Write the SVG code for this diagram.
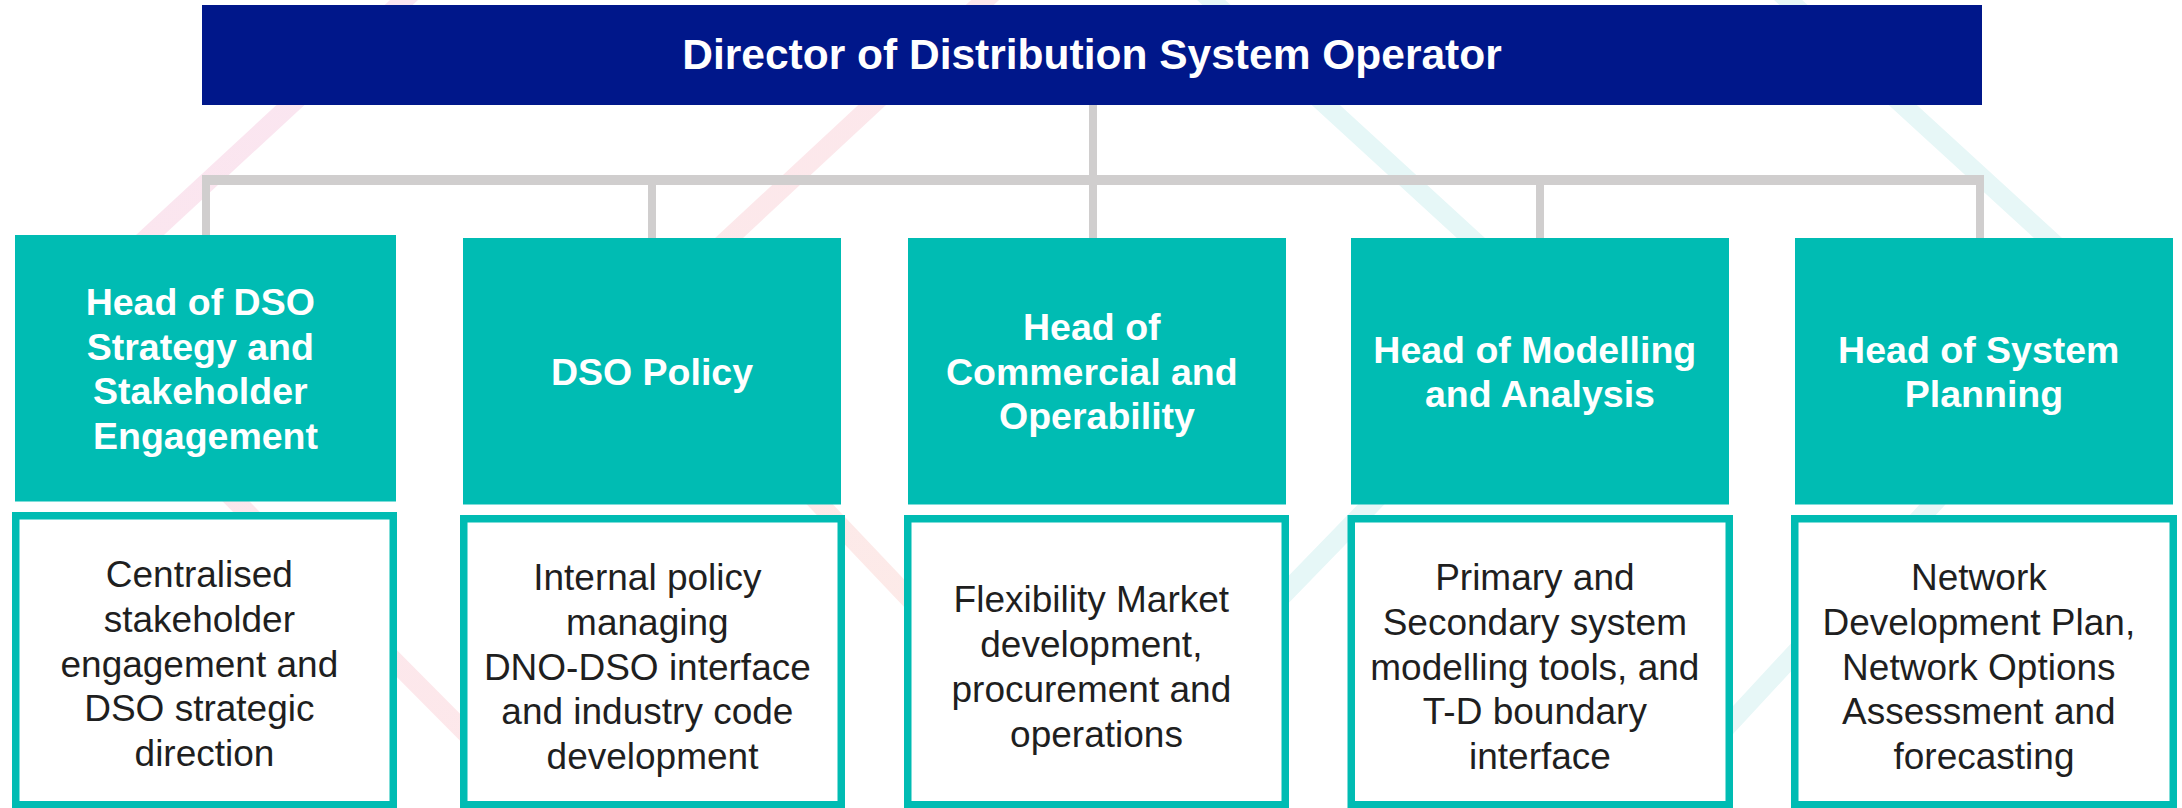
<svg xmlns="http://www.w3.org/2000/svg" width="2182" height="808" viewBox="0 0 2182 808">
  <defs>
    <linearGradient id="pinkA" gradientUnits="userSpaceOnUse" x1="0" y1="0" x2="0" y2="808">
      <stop offset="0" stop-color="#fae5f1"/>
      <stop offset="1" stop-color="#fde8ea"/>
    </linearGradient>
    <linearGradient id="pinkB" gradientUnits="userSpaceOnUse" x1="0" y1="0" x2="0" y2="808">
      <stop offset="0" stop-color="#fce7ec"/>
      <stop offset="1" stop-color="#fdebe7"/>
    </linearGradient>
    <style>
      .band { fill: none; stroke-width: 19; stroke-linejoin: miter; }
      .conn { fill: none; stroke: #d0cece; stroke-linecap: butt; }
      .top { fill: #00178a; }
      .head { fill: #00bcb3; }
      .desc { fill: #ffffff; stroke: #00bcb3; stroke-width: 7.5; }
      .ttl { font-family: "Liberation Sans", Arial, sans-serif; font-weight: bold; font-size: 42.5px; fill: #ffffff; text-anchor: middle; }
      .ht { font-family: "Liberation Sans", Arial, sans-serif; font-weight: bold; font-size: 37.5px; fill: #ffffff; text-anchor: middle; }
      .dt { font-family: "Liberation Sans", Arial, sans-serif; font-size: 37px; fill: #1f1f1f; text-anchor: middle; }
    </style>
  </defs>

  <rect x="0" y="0" width="2182" height="808" fill="#ffffff"/>

  <g id="background">
    <polyline class="band" stroke="url(#pinkA)" points="417,-12 57,321 558,826"/>
    <polyline class="band" stroke="url(#pinkB)" points="998,-12 643,318 1125,826"/>
    <polyline class="band" stroke="#e6f7f7" points="1198,-12 1555,315 1059,826"/>
    <polyline class="band" stroke="#e7f7f7" points="1775,-12 2119,303 1635,826"/>
  </g>

  <g id="connectors">
    <line class="conn" stroke-width="8" x1="1093" y1="104" x2="1093" y2="180"/>
    <line class="conn" stroke-width="10" x1="202" y1="180" x2="1984" y2="180"/>
    <line class="conn" stroke-width="8" x1="206" y1="180" x2="206" y2="236"/>
    <line class="conn" stroke-width="8" x1="652" y1="180" x2="652" y2="239"/>
    <line class="conn" stroke-width="8" x1="1093" y1="180" x2="1093" y2="239"/>
    <line class="conn" stroke-width="8" x1="1540" y1="180" x2="1540" y2="239"/>
    <line class="conn" stroke-width="8" x1="1980" y1="180" x2="1980" y2="239"/>
  </g>

  <g id="director">
    <rect class="top" x="202" y="5" width="1780" height="100"/>
    <text class="ttl" x="1092" y="69">Director of Distribution System Operator</text>
  </g>

  <g id="head-strategy">
    <rect class="head" x="15" y="235" width="381" height="266.5"/>
    <text class="ht">
      <tspan x="205.5" y="315">Head of DSO</tspan>
      <tspan x="205.5" y="359.5">Strategy and</tspan>
      <tspan x="205.5" y="404">Stakeholder</tspan>
      <tspan x="205.5" y="448.5">Engagement</tspan>
    </text>
  </g>
  <g id="desc-strategy">
    <rect class="desc" x="15.75" y="515.75" width="377.5" height="289"/>
    <text class="dt">
      <tspan x="204.5" y="587">Centralised</tspan>
      <tspan x="204.5" y="631.75">stakeholder</tspan>
      <tspan x="204.5" y="676.5">engagement and</tspan>
      <tspan x="204.5" y="721.25">DSO strategic</tspan>
      <tspan x="204.5" y="766">direction</tspan>
    </text>
  </g>

  <g id="head-policy">
    <rect class="head" x="463" y="238" width="378" height="266.5"/>
    <text class="ht" x="652" y="384.5">DSO Policy</text>
  </g>
  <g id="desc-policy">
    <rect class="desc" x="463.75" y="518.75" width="377.5" height="286"/>
    <text class="dt">
      <tspan x="652.5" y="590">Internal policy</tspan>
      <tspan x="652.5" y="634.75">managing</tspan>
      <tspan x="652.5" y="679.5">DNO-DSO interface</tspan>
      <tspan x="652.5" y="724.25">and industry code</tspan>
      <tspan x="652.5" y="769">development</tspan>
    </text>
  </g>

  <g id="head-commercial">
    <rect class="head" x="908" y="238" width="378" height="266.5"/>
    <text class="ht">
      <tspan x="1097" y="340">Head of</tspan>
      <tspan x="1097" y="384.5">Commercial and</tspan>
      <tspan x="1097" y="429">Operability</tspan>
    </text>
  </g>
  <g id="desc-commercial">
    <rect class="desc" x="907.75" y="518.75" width="377.5" height="286"/>
    <text class="dt">
      <tspan x="1096.5" y="612.4">Flexibility Market</tspan>
      <tspan x="1096.5" y="657.1">development,</tspan>
      <tspan x="1096.5" y="701.9">procurement and</tspan>
      <tspan x="1096.5" y="746.6">operations</tspan>
    </text>
  </g>

  <g id="head-modelling">
    <rect class="head" x="1351" y="238" width="378" height="266.5"/>
    <text class="ht">
      <tspan x="1540" y="362.5">Head of Modelling</tspan>
      <tspan x="1540" y="407">and Analysis</tspan>
    </text>
  </g>
  <g id="desc-modelling">
    <rect class="desc" x="1351.25" y="518.75" width="378" height="286"/>
    <text class="dt">
      <tspan x="1540" y="590">Primary and</tspan>
      <tspan x="1540" y="634.75">Secondary system</tspan>
      <tspan x="1540" y="679.5">modelling tools, and</tspan>
      <tspan x="1540" y="724.25">T-D boundary</tspan>
      <tspan x="1540" y="769">interface</tspan>
    </text>
  </g>

  <g id="head-planning">
    <rect class="head" x="1795" y="238" width="378" height="266.5"/>
    <text class="ht">
      <tspan x="1984" y="362.5">Head of System</tspan>
      <tspan x="1984" y="407">Planning</tspan>
    </text>
  </g>
  <g id="desc-planning">
    <rect class="desc" x="1794.75" y="518.75" width="378.5" height="286"/>
    <text class="dt">
      <tspan x="1984" y="590">Network</tspan>
      <tspan x="1984" y="634.75">Development Plan,</tspan>
      <tspan x="1984" y="679.5">Network Options</tspan>
      <tspan x="1984" y="724.25">Assessment and</tspan>
      <tspan x="1984" y="769">forecasting</tspan>
    </text>
  </g>
</svg>
